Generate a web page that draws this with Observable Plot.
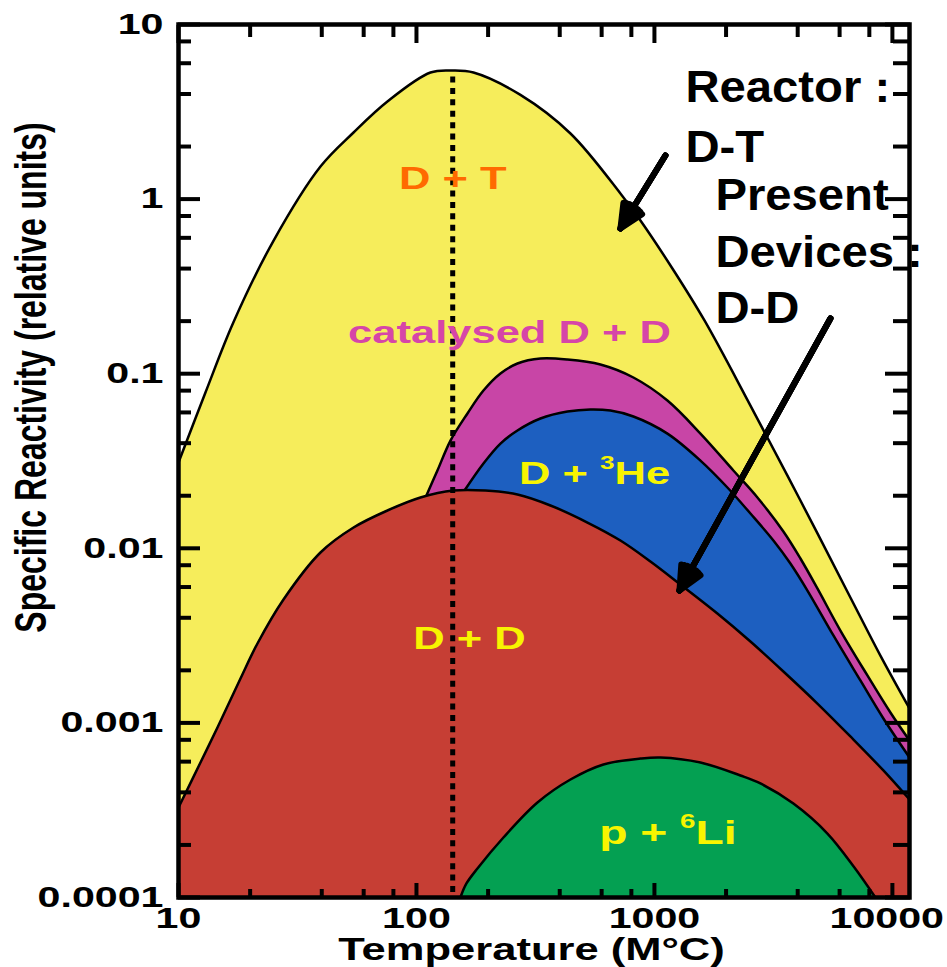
<!DOCTYPE html>
<html><head><meta charset="utf-8">
<script src="https://cdn.jsdelivr.net/npm/d3@7"></script>
<script src="https://cdn.jsdelivr.net/npm/@observablehq/plot@0.6"></script>
<style>html,body{margin:0;padding:0;background:#fff;} #chart svg{display:block;}</style>
</head><body><div id="chart"></div>
<script>
// ---- data (temperature in M°C, specific reactivity in relative units) ----
const dtT = [10, 12.98, 17.0, 25.1, 39.5, 54.4, 75.5, 114.5, 141.7, 173.6, 273.5, 443.8, 719.6, 873.4, 1190, 1623, 2532, 4107, 6660, 8904, 11800];
const dtR = [0.031, 0.078, 0.1965, 0.579, 1.537, 2.407, 3.622, 5.31, 5.45, 5.31, 3.95, 2.375, 1.077, 0.754, 0.4004, 0.2017, 0.0657, 0.01878, 0.00523, 0.00243, 0.00121];

const catT = [109.1, 122.5, 139, 163.8, 191.2, 225.4, 265.7, 331.9, 431, 593, 816, 1134, 1561, 2147, 2709, 3483, 4107, 4840, 6047, 7852, 9809, 11800];
const catR = [0.0195, 0.0279, 0.0414, 0.0592, 0.0801, 0.1003, 0.1144, 0.1222, 0.1206, 0.1129, 0.0951, 0.0702, 0.0454, 0.0279, 0.01954, 0.01248, 0.00874, 0.00589, 0.00338, 0.00187, 0.001147, 0.000793];

const he3T = [157.6, 191.2, 225.4, 265.7, 331.9, 431, 538.3, 653.3, 816, 1134, 1561, 2026, 2532, 3162, 3727, 4395, 5651, 7337, 9166, 11800];
const he3R = [0.0210, 0.0306, 0.0398, 0.0473, 0.0554, 0.0607, 0.0624, 0.0615, 0.0569, 0.0454, 0.0318, 0.0223, 0.01582, 0.01108, 0.00818, 0.00573, 0.003167, 0.00175, 0.00106, 0.000634];

const ddT = [10, 12.37, 14.58, 18.22, 21.47, 27.62, 39.5, 54.4, 75.5, 103.9, 143, 194.9, 265.7, 365.6, 523, 719.6, 962, 1286, 1839, 2532, 3483, 4840, 6660, 9166, 11800];
const ddR = [0.000328, 0.000593, 0.000941, 0.001796, 0.00285, 0.00509, 0.00946, 0.01315, 0.01646, 0.01954, 0.02143, 0.02143, 0.02033, 0.01759, 0.01405, 0.01108, 0.0084, 0.0062, 0.00423, 0.002925, 0.00197, 0.001291, 0.000836, 0.000534, 0.000364];

const li6T = [153, 162.2, 180.4, 232, 322.4, 443.8, 610.6, 873.4, 1060, 1561, 2298, 2789, 3837, 5333, 6924, 8484];
const li6R = [0.0001, 0.0001203, 0.0001466, 0.0002206, 0.00035, 0.000474, 0.000578, 0.000625, 0.000634, 0.000593, 0.0005, 0.00045, 0.000345, 0.0002325, 0.0001485, 0.0001];

// optimum D-T temperature (dotted line)
const dottedT = 142;
const dottedTop = 5.0;

// ticks
const xMajor = [10, 100, 1000, 10000];
const xLabels = ["10", "100", "1000", "10000"];
const xMinor = [20, 40, 60, 80, 200, 400, 600, 800, 2000, 4000, 6000, 8000];
const yMajor = [0.0001, 0.001, 0.01, 0.1, 1, 10];
const yLabels = ["0.0001", "0.001", "0.01", "0.1", "1", "10"];
const yMinor = [0.0002, 0.0004, 0.0006, 0.0008, 0.002, 0.004, 0.006, 0.008, 0.02, 0.04, 0.06, 0.08, 0.2, 0.4, 0.6, 0.8, 2, 4, 6, 8];

// in-chart labels
const labelText = ["D + T", "catalysed D + D", "D + ³He", "D + D", "p + ⁶Li"];
const labelT = [142, 246, 560, 167, 1139];
const labelR = [1.30, 0.172, 0.0267, 0.00304, 0.000234];
const labelColor = ["#ff6a00", "#d645a8", "#f8f400", "#f8f400", "#f8f400"];
const labelSize = [32, 32, 32, 32, 34];

// annotations
const annoText = ["Reactor :\nD-T", "Present\nDevices :\nD-D"];
const annoT = [1350, 1804];
const annoR = [6.30, 1.458];
const annoLineHeight = [1.33, 1.25];

// arrows
const arrowT1 = [1112, 5490];
const arrowR1 = [1.777, 0.2071];
const arrowT2 = [719.6, 1274];
const arrowR2 = [0.6786, 0.00573];

const xTitle = "Temperature (M°C)";
const yTitle = "Specific Reactivity (relative units)";

// ---- build ----
const series = [
  {T: dtT, R: dtR, fill: "#f6ed5b"},
  {T: catT, R: catR, fill: "#c845a6"},
  {T: he3T, R: he3R, fill: "#1d5fc0"},
  {T: ddT, R: ddR, fill: "#c63e34"},
  {T: li6T, R: li6R, fill: "#04a052"}
];
const curveMarks = series.flatMap(s => {
  const rows = s.T.map((t, i) => ({T: t, R: s.R[i]}));
  return [
    Plot.areaY(rows, {x: "T", y1: () => 1e-4, y2: "R", fill: s.fill, curve: "catmull-rom"}),
    Plot.lineY(rows, {x: "T", y: "R", stroke: "black", strokeWidth: 2.5, curve: "catmull-rom"})
  ];
});

const labels = labelText.map((t, i) => ({text: t, T: labelT[i], R: labelR[i], color: labelColor[i], size: labelSize[i]}));
const annos = annoText.map((t, i) => ({text: t, T: annoT[i], R: annoR[i], lh: annoLineHeight[i]}));
const arrows = arrowT1.map((t, i) => ({T1: t, R1: arrowR1[i], T2: arrowT2[i], R2: arrowR2[i]}));

const axisCommon = {strokeWidth: 4, label: null};
const svg = Plot.plot({
  width: 947, height: 967,
  marginLeft: 178, marginRight: 38, marginTop: 24, marginBottom: 70,
  style: {fontFamily: "'Liberation Sans', Arial, Helvetica, sans-serif", fontWeight: "bold", background: "#fff", color: "black"},
  x: {type: "log", domain: [10, 11800]},
  y: {type: "log", domain: [1e-4, 10]},
  marks: [
    ...curveMarks,
    Plot.ruleX([dottedT], {y1: () => dottedTop, y2: () => 1e-4, stroke: "black", strokeWidth: 5, strokeDasharray: "6,5.4"}),
    Plot.frame({stroke: "black", strokeWidth: 4.5}),
    Plot.axisY(yMajor, {...axisCommon, anchor: "left", tickSize: -22, tickPadding: 37, fontSize: 29, tickFormat: d => yLabels[yMajor.indexOf(d)]}),
    Plot.axisY(yMinor, {...axisCommon, anchor: "left", tickSize: -13, fill: "none"}),
    Plot.axisY(yMajor, {...axisCommon, anchor: "right", tickSize: -25, fill: "none"}),
    Plot.axisY(yMinor, {...axisCommon, anchor: "right", tickSize: -17, fill: "none"}),
    Plot.axisX(xMajor, {...axisCommon, anchor: "bottom", tickSize: -14, tickPadding: 24, fontSize: 29, tickFormat: d => xLabels[xMajor.indexOf(d)]}),
    Plot.axisX(xMinor, {...axisCommon, anchor: "bottom", tickSize: -8, fill: "none"}),
    Plot.axisX(xMajor, {...axisCommon, anchor: "top", tickSize: -18, fill: "none"}),
    Plot.axisX(xMinor, {...axisCommon, anchor: "top", tickSize: -12, fill: "none"}),
    ...labels.map(l => Plot.text([l], {x: "T", y: "R", text: "text", fill: l.color, fontSize: l.size, textAnchor: "middle"})),
    ...[50, 36, 22, 8].map(a => Plot.arrow(arrows, {x1: "T1", y1: "R1", x2: "T2", y2: "R2", stroke: "black", strokeWidth: 6, headAngle: a, headLength: 6.5})),
    ...annos.map(a => Plot.text([a], {x: "T", y: "R", text: "text", fill: "black", fontSize: 45, textAnchor: "start", lineAnchor: "top", lineHeight: a.lh})),
    Plot.text([xTitle], {text: d => d, frameAnchor: "bottom", textAnchor: "middle", lineAnchor: "middle", dx: -12.5, dy: 52, fontSize: 32, fill: "black"}),
    Plot.text([yTitle], {text: d => d, frameAnchor: "left", textAnchor: "middle", lineAnchor: "middle", rotate: -90, dx: -146, dy: -83.5, fontSize: 32, fill: "black"})
  ]
});
document.getElementById("chart").append(svg);

// superscripts inside labels (³, ⁶) as raised tspans
const NS = "http://www.w3.org/2000/svg";
svg.querySelectorAll("text").forEach(t => {
  if (t.children.length) return;
  const s = t.textContent;
  const m = s.match(/[³⁶]/);
  if (!m) return;
  const idx = s.indexOf(m[0]);
  const sup = m[0] === "³" ? "3" : "6";
  const fs = parseFloat(getComputedStyle(t).fontSize);
  t.textContent = "";
  const mk = (txt, attrs) => {
    const ts = document.createElementNS(NS, "tspan");
    ts.textContent = txt;
    for (const k in attrs) ts.setAttribute(k, attrs[k]);
    t.appendChild(ts);
  };
  mk(s.slice(0, idx), {});
  mk(sup, {"font-size": (fs * 0.6).toFixed(1), dy: (-fs * 0.47).toFixed(1)});
  mk(s.slice(idx + 1), {dy: (fs * 0.47).toFixed(1)});
});

// horizontal stretch of lettering, as in the original figure
svg.querySelectorAll("text").forEach(t => {
  const fs = parseFloat(getComputedStyle(t).fontSize);
  const k = fs >= 40 ? 1.05 : fs < 30.5 ? 1.42 : 1.36;
  const tr = t.getAttribute("transform") || "";
  const mm = tr.match(/^\s*translate\(([^)]*)\)(.*)$/);
  if (mm) t.setAttribute("transform", `translate(${mm[1]}) scale(${k},1)${mm[2]}`);
  else {
    const x = +t.getAttribute("x") || 0, y = +t.getAttribute("y") || 0;
    t.setAttribute("transform", `translate(${x},${y}) scale(${k},1) translate(${-x},${-y}) ${tr}`);
  }
});
// keep stretched labels inside the picture
const svgBox = svg.getBoundingClientRect();
svg.querySelectorAll("text").forEach(t => {
  const r = t.getBoundingClientRect();
  const over = r.right - svgBox.left - 944;
  if (over > 0) t.setAttribute("transform", `translate(${-over},0) ` + t.getAttribute("transform"));
});
</script>
</body></html>
